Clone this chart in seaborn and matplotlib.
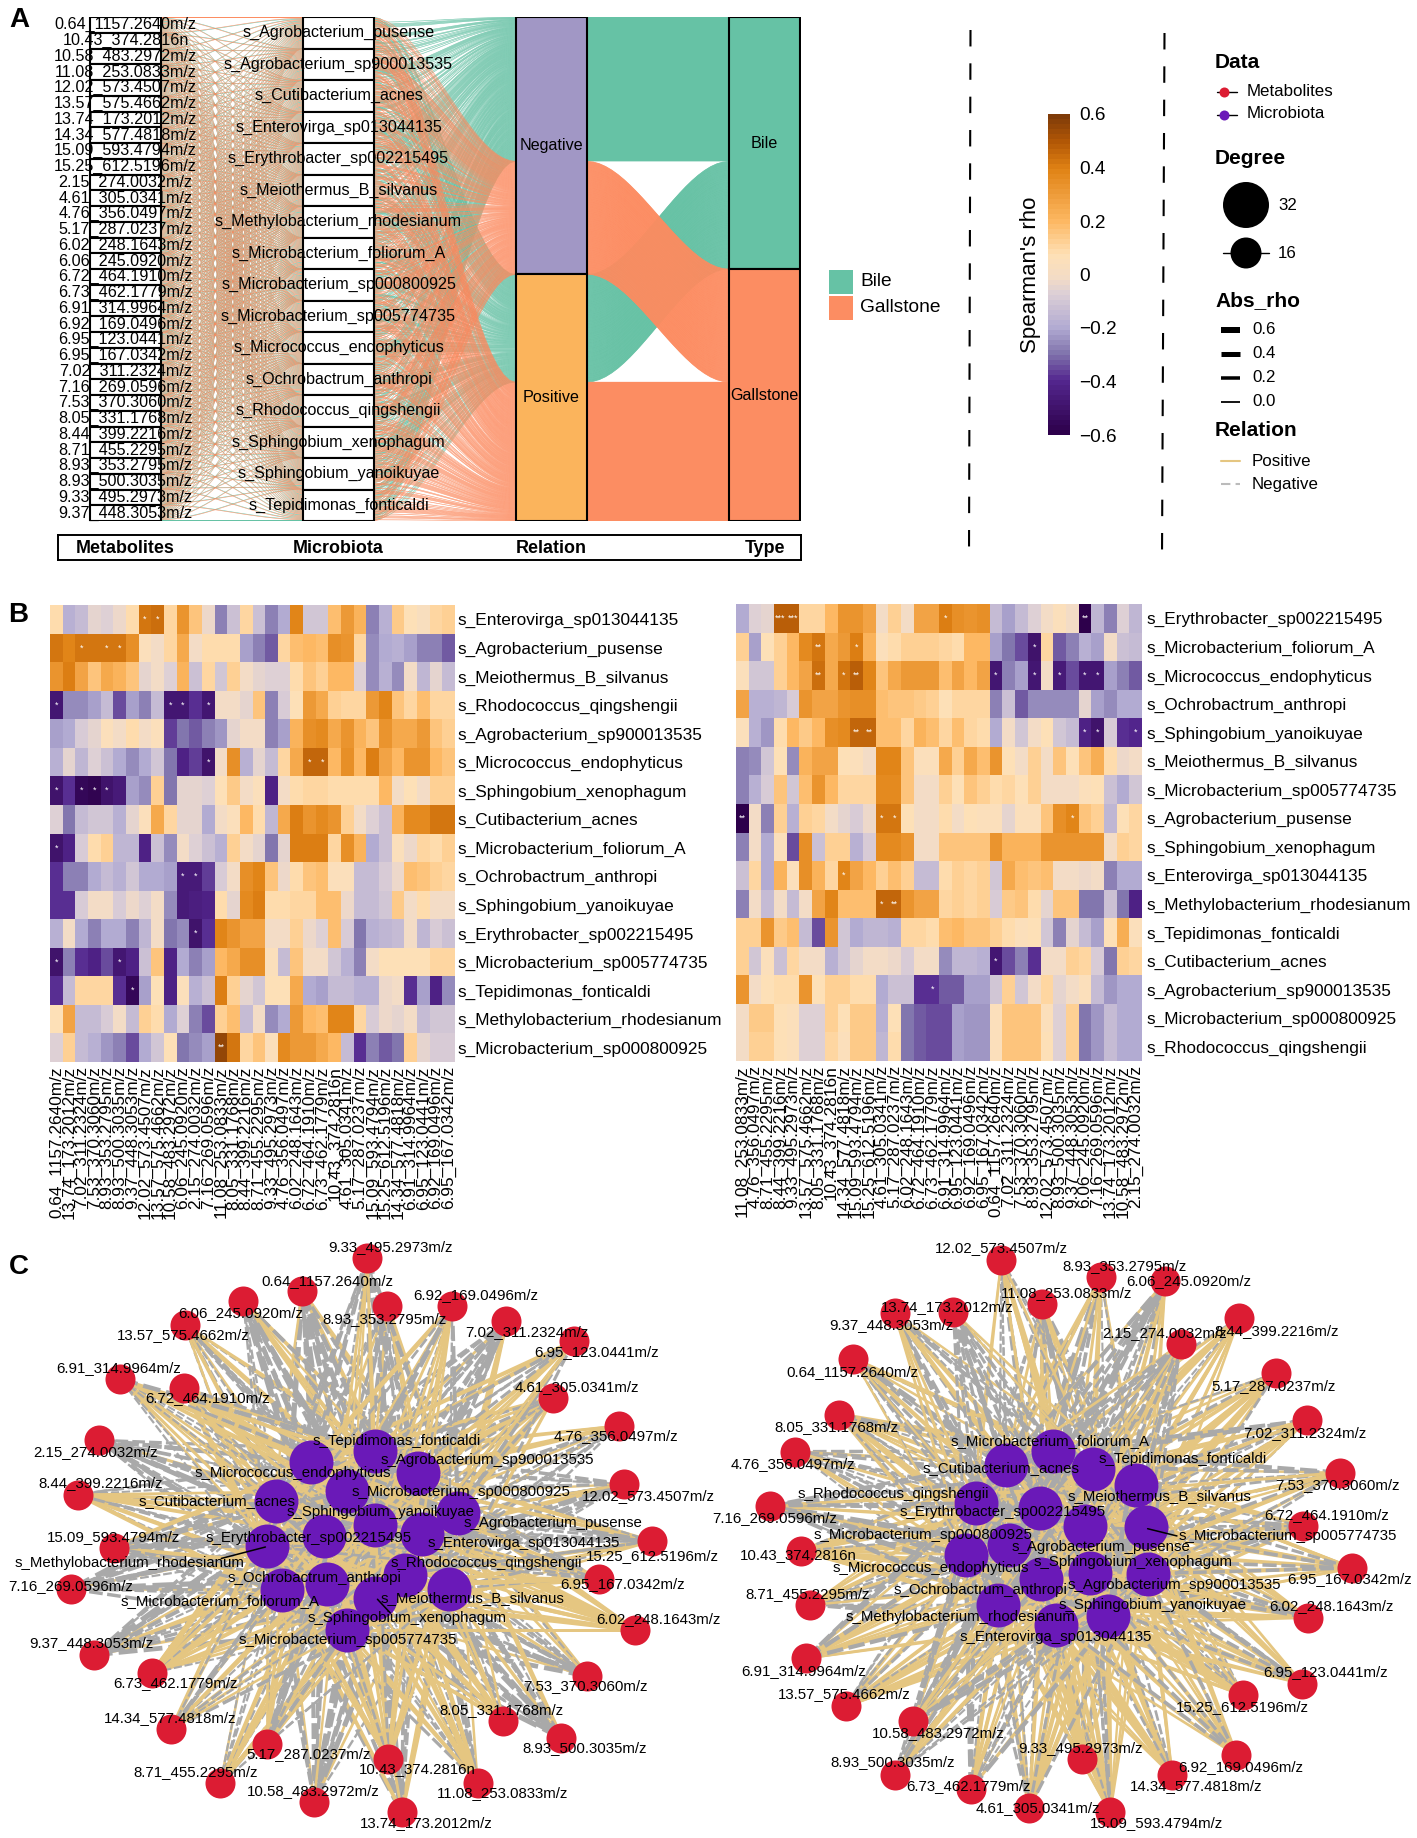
import numpy as np
import pandas as pd
import matplotlib
matplotlib.use("Agg")
import matplotlib.pyplot as plt
import seaborn as sns
from matplotlib.collections import PolyCollection
from matplotlib.colors import LinearSegmentedColormap

# -----------------------------
# Data
# -----------------------------

METABOLITES = ["0.64_1157.2640m/z", "10.43_374.2816n", "10.58_483.2972m/z", "11.08_253.0833m/z",
               "12.02_573.4507m/z", "13.57_575.4662m/z", "13.74_173.2012m/z", "14.34_577.4818m/z",
               "15.09_593.4794m/z", "15.25_612.5196m/z", "2.15_274.0032m/z", "4.61_305.0341m/z",
               "4.76_356.0497m/z", "5.17_287.0237m/z", "6.02_248.1643m/z", "6.06_245.0920m/z",
               "6.72_464.1910m/z", "6.73_462.1779m/z", "6.91_314.9964m/z", "6.92_169.0496m/z",
               "6.95_123.0441m/z", "6.95_167.0342m/z", "7.02_311.2324m/z", "7.16_269.0596m/z",
               "7.53_370.3060m/z", "8.05_331.1768m/z", "8.44_399.2216m/z", "8.71_455.2295m/z",
               "8.93_353.2795m/z", "8.93_500.3035m/z", "9.33_495.2973m/z", "9.37_448.3053m/z"]

MICROBES = ["s_Agrobacterium_pusense", "s_Agrobacterium_sp900013535", "s_Cutibacterium_acnes",
            "s_Enterovirga_sp013044135", "s_Erythrobacter_sp002215495", "s_Meiothermus_B_silvanus",
            "s_Methylobacterium_rhodesianum", "s_Microbacterium_foliorum_A",
            "s_Microbacterium_sp000800925", "s_Microbacterium_sp005774735",
            "s_Micrococcus_endophyticus", "s_Ochrobactrum_anthropi", "s_Rhodococcus_qingshengii",
            "s_Sphingobium_xenophagum", "s_Sphingobium_yanoikuyae", "s_Tepidimonas_fonticaldi"]

H1_ROWS = ["s_Enterovirga_sp013044135", "s_Agrobacterium_pusense", "s_Meiothermus_B_silvanus",
           "s_Rhodococcus_qingshengii", "s_Agrobacterium_sp900013535", "s_Micrococcus_endophyticus",
           "s_Sphingobium_xenophagum", "s_Cutibacterium_acnes", "s_Microbacterium_foliorum_A",
           "s_Ochrobactrum_anthropi", "s_Sphingobium_yanoikuyae", "s_Erythrobacter_sp002215495",
           "s_Microbacterium_sp005774735", "s_Tepidimonas_fonticaldi",
           "s_Methylobacterium_rhodesianum", "s_Microbacterium_sp000800925"]

H1_COLS = ["0.64_1157.2640m/z", "13.74_173.2012m/z", "7.02_311.2324m/z", "7.53_370.3060m/z",
           "8.93_353.2795m/z", "8.93_500.3035m/z", "9.37_448.3053m/z", "12.02_573.4507m/z",
           "13.57_575.4662m/z", "10.58_483.2972m/z", "6.06_245.0920m/z", "2.15_274.0032m/z",
           "7.16_269.0596m/z", "11.08_253.0833m/z", "8.05_331.1768m/z", "8.44_399.2216m/z",
           "8.71_455.2295m/z", "9.33_495.2973m/z", "4.76_356.0497m/z", "6.02_248.1643m/z",
           "6.72_464.1910m/z", "6.73_462.1779m/z", "10.43_374.2816n", "4.61_305.0341m/z",
           "5.17_287.0237m/z", "15.09_593.4794m/z", "15.25_612.5196m/z", "14.34_577.4818m/z",
           "6.91_314.9964m/z", "6.95_123.0441m/z", "6.92_169.0496m/z", "6.95_167.0342m/z"]

H1_RHO = [
    [.08, -.18, -.15, -.04, -.07, -.02, .08, .42, .44, .1, .33, .15, -.03, -.27, -.13, .1, -.13, -.27, -.2, .38, -.1, -.1, .17, .3, .22, -.27, -.17, .14, .06, .02, .1, .12],
    [.42, .38, .42, .42, .42, .42, .35, .05, -.01, .1, .25, -.01, .08, .08, .08, -.22, -.28, -.33, .1, .17, .2, .17, .35, .33, .1, -.25, -.2, -.18, -.22, -.27, -.28, -.32],
    [.33, .4, .27, .15, .25, .22, .15, -.04, -.01, -.06, .22, -.12, .1, -.1, .13, -.01, -.05, -.06, -.06, .09, .15, .12, .2, .2, -.06, -.25, -.18, -.25, -.01, -.16, -.05, -.15],
    [-.48, -.25, -.25, -.22, -.15, -.35, -.22, -.27, -.15, -.48, -.48, -.38, -.48, -.01, -.01, -.04, .15, -.27, -.08, .06, .3, .25, .13, .1, .1, .3, .38, .15, .1, .18, .1, .1],
    [-.22, -.2, -.08, -.04, .05, -.01, .08, -.01, .05, -.36, -.3, -.33, -.27, -.23, -.04, -.01, -.01, -.27, -.22, .22, .35, .37, .25, .33, .22, .15, .33, .25, .25, .3, .15, .12],
    [-.18, -.04, -.16, -.06, -.12, -.2, -.26, -.2, -.1, -.3, -.42, -.36, -.5, -.01, .34, -.18, -.04, -.15, .1, .25, .46, .46, .2, .35, .2, .4, .28, .2, .33, .33, .2, .15],
    [-.5, -.38, -.55, -.58, -.5, -.46, -.22, -.25, .12, -.3, -.05, -.05, -.06, .06, .14, -.01, .05, -.42, -.01, .08, .1, .1, .08, .08, .08, .08, .2, -.01, .07, -.01, .13, .12],
    [-.06, -.3, -.15, -.1, -.1, -.17, -.05, .05, .25, .1, -.05, -.05, -.2, -.01, .05, .2, .08, -.16, .25, .4, .33, .37, .33, .13, -.01, -.06, -.12, .22, .37, .37, .42, .42],
    [-.5, -.42, -.08, .08, .13, -.16, -.16, -.42, -.12, -.25, -.01, -.06, -.13, -.18, .13, -.01, -.05, -.3, -.05, .4, .4, .4, .1, .35, .22, -.2, -.12, .05, -.03, .1, .08, .13],
    [-.38, -.28, -.28, -.2, -.14, -.18, -.1, -.2, -.2, -.22, -.46, -.46, -.37, -.08, -.01, .35, .38, .15, -.03, .08, .15, .17, .05, .05, -.14, -.14, -.08, -.02, .17, .15, .12, .1],
    [-.38, -.38, -.08, -.01, -.01, -.08, -.02, -.06, -.01, -.25, -.45, -.44, -.42, .09, -.04, .36, .4, .09, .09, .1, .1, .17, .18, -.02, -.14, -.14, -.1, .14, -.01, .08, -.01, -.01],
    [-.17, -.01, -.2, -.28, -.2, -.2, -.28, -.16, -.01, -.3, -.26, -.5, -.38, .38, .33, .27, .27, -.01, -.01, .13, -.03, -.07, .18, -.08, -.3, -.18, -.16, -.15, -.01, -.16, -.08, -.12],
    [-.5, -.28, -.38, -.42, -.35, -.48, -.42, -.12, .15, -.42, -.2, -.28, -.22, .2, .25, .34, .34, .05, -.15, .15, -.01, -.01, -.1, -.17, -.28, -.01, .07, .07, .07, .07, .1, .1],
    [-.38, -.15, .1, .1, .1, -.38, -.55, -.22, .06, -.42, .05, -.18, -.13, .4, .12, -.05, -.1, .07, .07, .25, -.2, -.22, -.14, -.14, -.18, -.18, -.03, -.01, -.38, -.22, -.42, -.25],
    [.07, .27, -.15, -.15, -.08, -.01, -.15, .12, .09, -.2, -.07, -.28, -.35, .12, .18, -.15, -.01, -.25, -.2, .3, .2, .17, .38, .38, .1, -.08, -.03, -.05, -.01, -.14, -.1, -.1],
    [-.07, .13, -.15, -.18, -.23, -.28, -.35, -.2, -.1, .07, -.3, -.26, -.22, .55, .42, .1, .15, .05, .37, .3, .3, .25, .2, -.15, -.38, -.28, -.33, -.3, .12, -.05, -.08, -.08],
]

H1_STARS = [(0, 7, "*"), (0, 8, "*"), (1, 2, "*"), (1, 4, "*"), (1, 5, "*"), (3, 0, "*"), (3, 9, "*"),
            (3, 10, "*"), (3, 12, "*"), (5, 12, "*"), (5, 20, "*"), (5, 21, "*"), (6, 0, "*"), (6, 2, "*"),
            (6, 3, "*"), (6, 4, "*"), (8, 0, "*"), (9, 10, "*"), (9, 11, "*"), (11, 11, "*"), (12, 0, "*"),
            (12, 5, "*"), (13, 6, "*"), (15, 13, "**")]

H2_ROWS = ["s_Erythrobacter_sp002215495", "s_Microbacterium_foliorum_A", "s_Micrococcus_endophyticus",
           "s_Ochrobactrum_anthropi", "s_Sphingobium_yanoikuyae", "s_Meiothermus_B_silvanus",
           "s_Microbacterium_sp005774735", "s_Agrobacterium_pusense", "s_Sphingobium_xenophagum",
           "s_Enterovirga_sp013044135", "s_Methylobacterium_rhodesianum", "s_Tepidimonas_fonticaldi",
           "s_Cutibacterium_acnes", "s_Agrobacterium_sp900013535", "s_Microbacterium_sp000800925",
           "s_Rhodococcus_qingshengii"]

H2_COLS = ["11.08_253.0833m/z", "4.76_356.0497m/z", "8.71_455.2295m/z", "8.44_399.2216m/z",
           "9.33_495.2973m/z", "13.57_575.4662m/z", "8.05_331.1768m/z", "10.43_374.2816n",
           "14.34_577.4818m/z", "15.09_593.4794m/z", "15.25_612.5196m/z", "4.61_305.0341m/z",
           "5.17_287.0237m/z", "6.02_248.1643m/z", "6.72_464.1910m/z", "6.73_462.1779m/z",
           "6.91_314.9964m/z", "6.95_123.0441m/z", "6.92_169.0496m/z", "6.95_167.0342m/z",
           "0.64_1157.2640m/z", "7.02_311.2324m/z", "7.53_370.3060m/z", "8.93_353.2795m/z",
           "12.02_573.4507m/z", "8.93_500.3035m/z", "9.37_448.3053m/z", "6.06_245.0920m/z",
           "7.16_269.0596m/z", "13.74_173.2012m/z", "10.58_483.2972m/z", "2.15_274.0032m/z"]

H2_RHO = [
    [-.2, -.07, -.04, .47, .47, .1, .1, .2, .33, .32, .28, -.01, .13, -.01, .28, .28, .4, .35, .33, .35, -.15, -.22, -.15, -.07, -.01, .05, -.01, -.6, -.16, -.28, -.07, -.16],
    [.13, -.22, .06, .13, .2, .37, .42, .25, .3, .4, .22, .05, .08, .13, .13, .12, .1, .09, .2, .2, -.22, -.3, -.35, -.5, .1, -.33, -.28, -.17, -.22, -.01, -.13, -.15],
    [.05, -.1, -.1, .13, .2, .27, .44, .25, .42, .47, .38, .15, .25, .3, .3, .3, .18, .27, .2, .28, -.48, -.28, -.22, -.47, -.01, -.45, -.35, -.48, -.48, -.22, -.28, -.33],
    [.28, -.18, -.18, -.16, -.08, .33, .28, .28, .33, .35, .35, .17, .15, .15, .14, .12, .06, .1, .1, .1, -.28, -.12, -.33, -.25, -.25, -.25, -.25, -.05, -.22, -.25, -.2, -.2],
    [.05, -.17, -.23, .09, .2, .14, .2, .35, .37, .45, .45, .17, .17, .1, .22, .18, .1, .18, .1, .08, -.2, -.01, -.1, -.01, .06, -.1, -.15, -.42, -.5, -.08, -.38, -.4],
    [-.27, -.25, -.1, .07, -.25, .22, .27, .27, .06, .05, -.01, .38, .38, .15, .05, .05, .25, .12, .25, .18, .33, .07, -.01, .12, -.01, .15, .06, .15, .24, .08, -.02, -.01],
    [-.28, -.17, -.08, .15, -.1, .17, .32, .2, .1, .1, .1, .36, .36, .15, -.01, -.01, .13, .06, .15, .12, .08, .1, .06, .12, -.01, -.01, -.01, .05, .07, -.12, -.2, -.1],
    [-.6, -.01, -.28, .13, -.18, .13, .1, -.01, -.04, -.09, -.03, .42, .42, .06, -.01, -.01, .09, -.01, .06, .05, .05, -.04, .05, .05, .15, .35, .38, .15, .13, -.16, .07, .1],
    [-.28, -.01, -.2, .05, -.35, .35, -.13, .13, .13, -.17, -.08, .36, .36, .33, -.01, -.01, .15, .15, .15, .15, .33, .22, .22, .22, .33, .33, .33, .33, .33, -.01, .12, .1],
    [-.12, .1, -.2, .22, .05, .35, .22, .1, .38, .28, .2, .13, .17, .13, -.15, -.15, .08, .13, .1, .13, -.1, .25, .17, .15, .17, -.01, -.01, -.02, -.01, -.28, -.2, -.2],
    [-.27, -.01, -.15, -.01, -.14, -.01, .28, .38, .18, .18, .18, .45, .45, .33, .27, .27, .1, .12, .1, .12, -.08, .14, .15, .08, -.04, .15, .15, -.3, -.3, -.13, -.3, -.42],
    [.12, .12, .33, .14, .18, -.15, -.35, .33, -.1, -.2, -.16, -.16, -.17, .1, .1, .08, .18, .2, .15, .15, .12, .09, .05, .07, -.1, -.28, -.04, -.15, -.22, .06, .24, .05],
    [.13, -.1, .05, -.13, .1, -.01, -.01, -.17, -.1, -.05, -.01, -.01, -.03, -.08, -.01, -.01, -.25, -.16, -.16, -.18, -.48, -.35, -.28, -.38, -.01, -.01, .13, .1, -.08, -.3, .12, .1],
    [.33, -.01, .07, .09, .09, .33, .06, .12, .12, .09, .09, -.2, -.12, -.12, -.38, -.38, -.33, -.33, -.22, -.22, -.1, .12, -.1, -.01, .1, -.04, -.01, .04, -.15, -.24, -.2, -.2],
    [-.01, .14, .14, .06, .05, -.07, -.07, .13, .06, .14, .14, -.18, .07, -.3, -.33, -.35, -.35, -.22, -.24, -.24, .05, .16, .16, .16, .05, -.07, .12, -.3, -.24, -.15, -.2, -.2],
    [-.01, .13, .13, .06, .05, -.07, -.07, .1, .04, .14, .14, -.16, .08, -.3, -.33, -.35, -.35, -.22, -.24, -.24, .04, .16, .16, .16, .06, -.07, .12, -.3, -.24, -.15, -.2, -.2],
]

H2_STARS = [(0, 3, "***"), (0, 4, "***"), (0, 16, "*"), (0, 27, "**"), (1, 6, "**"), (1, 9, "*"), (1, 23, "*"),
            (2, 6, "**"), (2, 8, "*"), (2, 9, "**"), (2, 20, "*"), (2, 23, "*"), (2, 25, "*"), (2, 27, "*"),
            (2, 28, "*"), (4, 9, "**"), (4, 10, "**"), (4, 27, "*"), (4, 28, "*"), (4, 31, "*"), (7, 0, "**"),
            (7, 11, "*"), (7, 12, "*"), (7, 26, "*"), (9, 8, "*"), (10, 11, "*"), (10, 12, "**"), (12, 20, "*"),
            (13, 15, "*")]

# network layouts: name -> node position, label position
LEFT_MET = {
    "9.33_495.2973m/z": (800, 48, 850, 18), "0.64_1157.2640m/z": (658, 135, 712, 107),
    "6.92_169.0496m/z": (985, 172, 1036, 143), "8.93_353.2795m/z": (843, 172, 838, 206),
    "6.06_245.0920m/z": (530, 160, 525, 191), "13.57_575.4662m/z": (402, 222, 400, 249),
    "7.02_311.2324m/z": (1103, 212, 1148, 240), "6.95_123.0441m/z": (1250, 265, 1300, 295),
    "6.91_314.9964m/z": (262, 365, 258, 336), "6.72_464.1910m/z": (401, 388, 452, 415),
    "4.61_305.0341m/z": (1205, 413, 1256, 385), "2.15_274.0032m/z": (215, 525, 208, 555),
    "4.76_356.0497m/z": (1347, 487, 1342, 515), "8.44_399.2216m/z": (170, 668, 220, 637),
    "12.02_573.4507m/z": (1360, 640, 1413, 670), "15.09_593.4794m/z": (249, 808, 247, 779),
    "15.25_612.5196m/z": (1419, 790, 1420, 829), "6.95_167.0342m/z": (1305, 890, 1356, 902),
    "7.16_269.0596m/z": (155, 915, 154, 908), "6.02_248.1643m/z": (1383, 1022, 1433, 993),
    "9.37_448.3053m/z": (204, 1088, 199, 1058), "6.73_462.1779m/z": (332, 1135, 382, 1162),
    "7.53_370.3060m/z": (1279, 1143, 1275, 1170), "14.34_577.4818m/z": (373, 1283, 371, 1254),
    "8.05_331.1768m/z": (1096, 1260, 1091, 1232), "8.93_500.3035m/z": (1222, 1305, 1274, 1333),
    "5.17_287.0237m/z": (581, 1322, 672, 1349), "10.43_374.2816n": (846, 1362, 909, 1388),
    "8.71_455.2295m/z": (480, 1425, 427, 1394), "11.08_253.0833m/z": (1040, 1423, 1095, 1450),
    "10.58_483.2972m/z": (684, 1473, 682, 1444), "13.74_173.2012m/z": (875, 1500, 928, 1528),
}
LEFT_MIC = {
    "s_Tepidimonas_fonticaldi": (817, 553, 864, 527), "s_Agrobacterium_sp900013535": (910, 612, 1061, 578),
    "s_Micrococcus_endophyticus": (678, 583, 638, 611), "s_Microbacterium_sp000800925": (755, 658, 1005, 662),
    "s_Cutibacterium_acnes": (602, 685, 472, 685), "s_Agrobacterium_pusense": (997, 715, 1204, 742),
    "s_Sphingobium_yanoikuyae": (816, 748, 828, 713), "s_Erythrobacter_sp002215495": (706, 775, 672, 782),
    "s_Enterovirga_sp013044135": (918, 770, 1140, 795), "s_Methylobacterium_rhodesianum": (581, 803, 282, 848),
    "s_Rhodococcus_qingshengii": (882, 878, 1060, 848), "s_Ochrobactrum_anthropi": (712, 902, 684, 885),
    "s_Meiothermus_B_silvanus": (977, 915, 1030, 940), "s_Microbacterium_foliorum_A": (614, 918, 480, 947),
    "s_Sphingobium_xenophagum": (817, 938, 886, 992), "s_Microbacterium_sp005774735": (755, 1022, 758, 1050),
}
RIGHT_MET = {
    "12.02_573.4507m/z": (633, 52, 632, 20), "8.93_353.2795m/z": (857, 97, 910, 67),
    "6.06_245.0920m/z": (1002, 108, 1054, 108), "11.08_253.0833m/z": (725, 167, 780, 138),
    "13.74_173.2012m/z": (525, 188, 511, 177), "9.37_448.3053m/z": (393, 192, 386, 224),
    "8.44_399.2216m/z": (1168, 205, 1253, 238), "2.15_274.0032m/z": (1036, 273, 1000, 244),
    "0.64_1157.2640m/z": (300, 312, 297, 345), "5.17_287.0237m/z": (1250, 350, 1246, 382),
    "8.05_331.1768m/z": (267, 458, 262, 490), "7.02_311.2324m/z": (1320, 473, 1315, 506),
    "4.76_356.0497m/z": (168, 555, 163, 587), "7.53_370.3060m/z": (1394, 610, 1390, 643),
    "7.16_269.0596m/z": (112, 697, 122, 729), "6.72_464.1910m/z": (1312, 750, 1365, 720),
    "10.43_374.2816n": (183, 815, 177, 825), "6.95_167.0342m/z": (1422, 860, 1417, 890),
    "8.71_455.2295m/z": (203, 957, 198, 928), "6.02_248.1643m/z": (1322, 990, 1375, 960),
    "6.91_314.9964m/z": (193, 1097, 188, 1129), "6.95_123.0441m/z": (1310, 1163, 1362, 1132),
    "13.57_575.4662m/z": (283, 1222, 280, 1191), "15.25_612.5196m/z": (1177, 1193, 1175, 1225),
    "10.58_483.2972m/z": (435, 1262, 490, 1294), "6.92_169.0496m/z": (1161, 1350, 1171, 1383),
    "8.93_500.3035m/z": (393, 1402, 389, 1369), "9.33_495.2973m/z": (815, 1362, 811, 1333),
    "14.34_577.4818m/z": (1017, 1403, 1072, 1432), "6.73_462.1779m/z": (564, 1440, 558, 1433),
    "4.61_305.0341m/z": (696, 1490, 715, 1490), "15.09_593.4794m/z": (878, 1500, 982, 1530),
}
RIGHT_MIC = {
    "s_Microbacterium_foliorum_A": (750, 553, 743, 527), "s_Cutibacterium_acnes": (643, 590, 633, 597),
    "s_Tepidimonas_fonticaldi": (840, 600, 1042, 575), "s_Meiothermus_B_silvanus": (936, 642, 988, 672),
    "s_Rhodococcus_qingshengii": (575, 690, 390, 667), "s_Erythrobacter_sp002215495": (720, 702, 636, 713),
    "s_Agrobacterium_pusense": (822, 750, 857, 805), "s_Microbacterium_sp005774735": (958, 753, 1277, 776),
    "s_Microbacterium_sp000800925": (553, 825, 456, 773), "s_Micrococcus_endophyticus": (650, 800, 475, 860),
    "s_Sphingobium_xenophagum": (833, 873, 930, 845), "s_Agrobacterium_sp900013535": (962, 875, 1022, 905),
    "s_Ochrobactrum_anthropi": (723, 888, 586, 917), "s_Sphingobium_yanoikuyae": (873, 985, 972, 958),
    "s_Methylobacterium_rhodesianum": (626, 958, 540, 988), "s_Enterovirga_sp013044135": (755, 1010, 755, 1040),
}

RELATIONS = ["Negative", "Positive"]
TYPES = ["Bile", "Gallstone"]
STRATA_COLORS = {"Negative": "#a197c5", "Positive": "#fbb45c", "Bile": "#66c2a5", "Gallstone": "#fc8d62"}
AXIS_NAMES = ["Metabolites", "Microbiota", "Relation", "Type"]
CBAR_TICKS = [-0.6, -0.4, -0.2, 0, 0.2, 0.4, 0.6]
CBAR_LABELS = ["\u22120.6", "\u22120.4", "\u22120.2", "0", "0.2", "0.4", "0.6"]

# -----------------------------
# Setup
# -----------------------------

W, H = 1417, 1838
sns.set_theme(style="white")
plt.rcParams["font.family"] = ["Liberation Sans", "DejaVu Sans"]

fig = plt.figure(figsize=(W / 100, H / 100), dpi=100, facecolor="white")


def px_axes(x0, y0, x1, y1, **kw):
    return fig.add_axes([x0 / W, 1 - y1 / H, (x1 - x0) / W, (y1 - y0) / H], **kw)


cmap = LinearSegmentedColormap.from_list("rho", [
    (0.0, "#2d004b"), (1 / 6, "#54278f"), (0.25, "#8073ac"), (1 / 3, "#b2abd2"), (0.44, "#dccfd6"),
    (0.49, "#f3dcc6"), (0.56, "#fee0b6"), (2 / 3, "#fdb863"), (5 / 6, "#e08214"), (11 / 12, "#b35806"),
    (1.0, "#7f3b08")], N=64)


def long_table(rows, cols, rho, kind):
    tab = pd.DataFrame(rho, index=rows, columns=cols).rename_axis("Microbe").reset_index()
    tab = tab.melt(id_vars="Microbe", var_name="Metabolite", value_name="rho")
    tab["Type"] = kind
    return tab


links = pd.concat([long_table(H1_ROWS, H1_COLS, H1_RHO, "Bile"),
                   long_table(H2_ROWS, H2_COLS, H2_RHO, "Gallstone")], ignore_index=True)
links["Relation"] = np.where(links["rho"] < 0, "Negative", "Positive")
links["met"] = links["Metabolite"].map(METABOLITES.index)
links["mic"] = links["Microbe"].map(MICROBES.index)
links["rel"] = links["Relation"].map(RELATIONS.index)
links["typ"] = links["Type"].map(TYPES.index)

# -----------------------------
# Panel A: alluvial
# -----------------------------

ALL_X0, ALL_X1 = 58, 801
xlim = (0.683, 4.171)
ax_all = px_axes(ALL_X0, 17, ALL_X1, 521)
ax_all.set_xlim(*xlim)
ax_all.set_ylim(len(links), 0)
ax_all.axis("off")
ax_all.patch.set_alpha(0)

orders = [["met", "mic", "rel", "typ"], ["mic", "met", "rel", "typ"],
          ["rel", "typ", "mic", "met"], ["typ", "rel", "mic", "met"]]
lode = pd.DataFrame(index=links.index)
for i, keys in enumerate(orders):
    lode[i] = pd.Series(np.arange(len(links)), index=links.sort_values(keys).index)

half = 1 / 6
t = np.linspace(0, 1, 24)
ease = 3 * t ** 2 - 2 * t ** 3
# the first two gaps stay thin and pale, the last one closes up
gap_widths = [0.0, 0.06, 0.2]
for kind, color in [("Bile", "#66c2a5"), ("Gallstone", "#fc8d62")]:
    sel = links.index[links["Type"] == kind]
    for gap in range(3):
        xs = (gap + 1 + half) + (1 - 2 * half) * t
        polys = []
        for idx in sel:
            y0, y1 = lode.at[idx, gap], lode.at[idx, gap + 1]
            top = y0 + (y1 - y0) * ease
            polys.append(np.column_stack([np.r_[xs, xs[::-1]], np.r_[top, top[::-1] + 1]]))
        ax_all.add_collection(PolyCollection(polys, facecolors=color, edgecolors=color,
                                             linewidths=gap_widths[gap], zorder=1))

strata = [("met", METABOLITES), ("mic", MICROBES), ("rel", RELATIONS), ("typ", TYPES)]
start = 0
for pos, (key, names) in enumerate(strata):
    counts = links[key].value_counts().sort_index().to_numpy()
    bottoms = np.r_[0, np.cumsum(counts)[:-1]]
    colors = [STRATA_COLORS.get(n, "white") for n in names]
    ax_all.bar([pos + 1] * len(names), counts, bottom=bottoms, width=2 * half, color=colors,
               edgecolor="black", linewidth=1.5, zorder=2)
    for n, b, c in zip(names, bottoms, counts):
        ax_all.text(pos + 1, b + c / 2, n, ha="center", va="center", fontsize=11.6, color="black", zorder=3)

ax_strip = px_axes(ALL_X0, 535, ALL_X1, 560)
ax_strip.set_xlim(*xlim)
ax_strip.set_xticks([])
ax_strip.set_yticks([])
for s in ax_strip.spines.values():
    s.set_visible(True)
    s.set_linewidth(1.4)
    s.set_color("black")
for i, name in enumerate(AXIS_NAMES):
    ax_strip.text(i + 1, 0.45, name, transform=ax_strip.get_xaxis_transform(), ha="center", va="center",
                  fontsize=12.9, fontweight="bold", color="black")

# -----------------------------
# Panel B: heatmaps
# -----------------------------


def star_table(stars):
    table = np.full((16, 32), "", dtype=object)
    for r, c, mark in stars:
        table[r, c] = mark
    return table


cax = px_axes(1048, 114, 1070, 435)
ax_h1 = px_axes(50, 605, 455, 1062)
ax_h2 = px_axes(736, 604, 1142, 1061)

for ax, rows, cols, rho, stars, use_cbar, ypad in [(ax_h1, H1_ROWS, H1_COLS, H1_RHO, H1_STARS, True, 2),
                                                   (ax_h2, H2_ROWS, H2_COLS, H2_RHO, H2_STARS, False, 3.5)]:
    sns.heatmap(pd.DataFrame(rho, index=rows, columns=cols), ax=ax, cmap=cmap, vmin=-0.6, vmax=0.6,
                annot=star_table(stars), fmt="", annot_kws={"size": 6.5, "color": "white"},
                xticklabels=True, yticklabels=True, cbar=use_cbar, cbar_ax=cax if use_cbar else None,
                linewidths=0)
    ax.set_xlabel("")
    ax.set_ylabel("")
    ax.yaxis.tick_right()
    ax.tick_params(axis="both", length=0, labelcolor="black")
    ax.tick_params(axis="x", labelsize=12.4, labelrotation=90, pad=3)
    ax.tick_params(axis="y", labelsize=12.4, labelrotation=0, pad=ypad)

cbar = ax_h1.collections[0].colorbar
cbar.outline.set_visible(False)
cbar.set_ticks(CBAR_TICKS, labels=CBAR_LABELS)
cax.tick_params(length=0, labelsize=13.7, pad=6.5, labelcolor="black")
cax.yaxis.set_label_position("left")
cax.set_ylabel("Spearman's rho", fontsize=16, color="black", labelpad=5)

# -----------------------------
# Panel C: networks
# -----------------------------


def draw_network(ax, kind, met_layout, mic_layout, leaders):
    ax.set_xlim(0, 1568)
    ax.set_ylim(1568, 0)
    ax.axis("off")
    ax.patch.set_alpha(0)
    for row in links[links["Type"] == kind].itertuples():
        x0, y0 = met_layout[row.Metabolite][:2]
        x1, y1 = mic_layout[row.Microbe][:2]
        width = (2.0 + 6.5 * abs(row.rho)) * 0.72
        if row.rho < 0:
            ax.plot([x0, x1], [y0, y1], color="#a9a9a9", lw=width, ls=(0, (4, 1.3)), zorder=1)
        else:
            ax.plot([x0, x1], [y0, y1], color="#e5c681", lw=width, zorder=1)
    for layout, color, size in [(met_layout, "#dc1c33", 467), (mic_layout, "#6a19b8", 1003)]:
        nodes = pd.DataFrame(layout.values(), columns=["x", "y", "tx", "ty"])
        sns.scatterplot(data=nodes, x="x", y="y", ax=ax, color=color, s=size, linewidth=0, zorder=3,
                        clip_on=False, legend=False)
    ax.set_xlabel("")
    ax.set_ylabel("")
    for (x0, y0), (x1, y1) in leaders:
        ax.plot([x0, x1], [y0, y1], color="black", lw=1.1, zorder=4)
    for layout in (met_layout, mic_layout):
        for name, (_, _, tx, ty) in layout.items():
            ax.text(tx, ty, name, ha="center", va="center", fontsize=10.8, color="black", zorder=5,
                    clip_on=False)


ax_left = px_axes(0, 1240, 720, 1838)
draw_network(ax_left, "Bile", LEFT_MET, LEFT_MIC,
             [((482, 835), (578, 805)), ((822, 942), (850, 978))])
ax_right = px_axes(720, 1240, 1417, 1838)
draw_network(ax_right, "Gallstone", RIGHT_MET, RIGHT_MIC, [((962, 757), (1028, 776))])

# -----------------------------
# Legends, letters, dashed rules
# -----------------------------

page = px_axes(0, 0, W, H)
page.set_xlim(0, W)
page.set_ylim(H, 0)
page.axis("off")
page.patch.set_alpha(0)

for letter, x, y in [("A", 19, 20), ("B", 18, 615), ("C", 19, 1267)]:
    page.text(x, y, letter, fontsize=20, fontweight="bold", ha="center", va="center", color="black")

page.plot([970.5, 969], [30, 557], color="black", lw=1.5, ls=(0, (7.9, 8.1)))
page.plot([1164.5, 1162], [33, 557], color="black", lw=1.5, ls=(0, (7.9, 8.1)))

for name, y0, color in [("Bile", 270, "#66c2a5"), ("Gallstone", 296, "#fc8d62")]:
    page.add_patch(plt.Rectangle((829, y0), 24, 24, facecolor=color, edgecolor="none"))
    page.text(860, y0 + 12, name, fontsize=13.8, va="center", color="black")

for title, y in [("Data", 63), ("Degree", 159), ("Abs_rho", 301), ("Relation", 431)]:
    page.text(1215, y, title, fontsize=15, fontweight="bold", va="center", color="black")

for name, y, color in [("Metabolites", 92, "#dc1c33"), ("Microbiota", 115, "#6a19b8")]:
    page.plot([1217, 1237], [y, y], color="black", lw=1)
    page.scatter([1224], [y], s=52, color=color, linewidth=0, zorder=3)
    page.text(1247, y - 1, name, fontsize=12.2, va="center", color="black")

page.plot([1223, 1269], [253, 253], color="black", lw=1)
page.scatter([1246, 1246], [205, 253], s=[1097, 498], color="black", linewidth=0, zorder=3)
page.text(1278, 205, "32", fontsize=12.2, va="center", color="black")
page.text(1278, 253, "16", fontsize=12.2, va="center", color="black")

for name, y, width in [("0.6", 330, 6), ("0.4", 354, 5), ("0.2", 378, 3.5), ("0.0", 402, 1.8)]:
    page.plot([1221, 1240], [y, y], color="black", lw=width * 0.72, solid_capstyle="butt")
    page.text(1252, y, name, fontsize=12.2, va="center", color="black")

page.plot([1221, 1240], [461, 461], color="#e5c681", lw=1.5)
page.plot([1221, 1240], [484, 484], color="#bbbbbb", lw=1.5, ls=(0, (4.5, 2.5)))
page.text(1252, 461, "Positive", fontsize=12.2, va="center", color="black")
page.text(1252, 484, "Negative", fontsize=12.2, va="center", color="black")

fig.savefig("out.png", dpi=100)
